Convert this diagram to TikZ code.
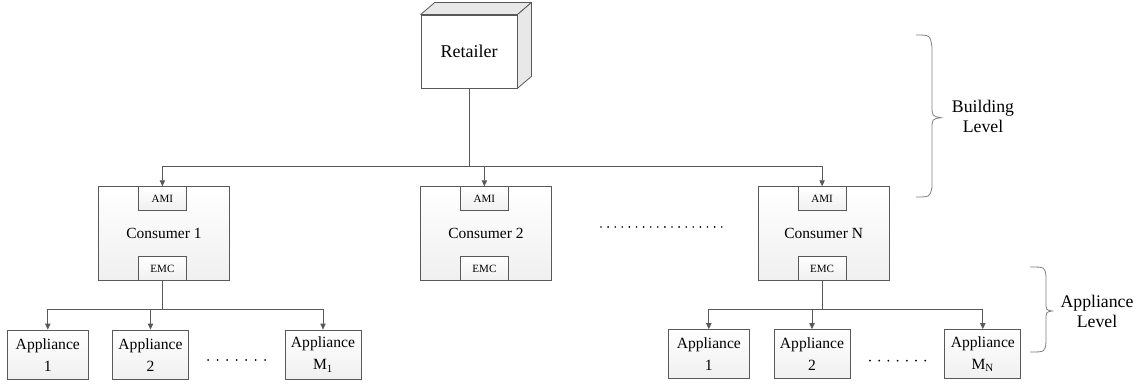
\documentclass[tikz,border=0pt]{standalone}
\usepackage{fontspec}
\setmainfont{Liberation Serif}
\usetikzlibrary{arrows.meta}
\definecolor{linegray}{RGB}{89,89,89}
\definecolor{facegray}{RGB}{232,232,232}
\tikzset{
  box/.style={draw=linegray, line width=0.6pt, top color=white, bottom color=gray!12, inner sep=1pt},
  consumer/.style={box, minimum width=98pt, minimum height=70.5pt, font=\fontsize{11.6}{14}\selectfont},
  meter/.style={box, minimum width=36pt, minimum height=18pt, font=\fontsize{8.3}{10}\selectfont},
  appliance/.style={box, minimum width=57pt, minimum height=37pt, align=center, font=\fontsize{11.7}{16.5}\selectfont},
  wire/.style={draw=linegray, line width=0.6pt},
  link/.style={wire, -{Triangle[length=4.5pt,width=4pt]}},
  brace/.style={draw=gray, line width=0.6pt},
  level/.style={align=center, font=\fontsize{13.3}{15}\selectfont},
}
\begin{document}
\begin{tikzpicture}[x=0.75pt, y=-0.75pt]
    \useasboundingbox (0,0) rectangle (1144,384);
    % retailer cube
    \node[draw=linegray, line width=0.6pt, fill=white, minimum width=72pt, minimum height=54.75pt,
          font=\fontsize{13.5}{16}\selectfont] (ret) at (469,51.5) {Retailer};
    \filldraw[wire, fill=facegray, line join=round] (ret.north west) -- ++(14,-12) -- ([shift={(14,-12)}]ret.north east) -- (ret.north east) -- cycle;
    \filldraw[wire, fill=facegray, line join=round] (ret.north east) -- ++(14,-12) -- ([shift={(14,-12)}]ret.south east) -- (ret.south east) -- cycle;
    % consumers
    \node[consumer] (c1) at (164,233.7) {Consumer 1};
    \node[consumer] (c2) at (486,233.7) {Consumer 2};
    \node[consumer] (cN) at (823.7,233.7) {Consumer N};
    \foreach \c in {c1,c2,cN} {
        \node[meter, anchor=north] (ami\c) at ([xshift=-1.2pt]\c.north) {AMI};
        \node[meter, anchor=south] (emc\c) at ([xshift=-1.2pt]\c.south) {EMC};
    }
    \path (ret.south) ++(0,78) coordinate (bus);
    \draw[wire] (ret.south) -- (bus);
    \foreach \c in {c1,c2,cN}
        \draw[link] (bus) -| (ami\c.north);
    \foreach \i in {0,...,17}
        \fill[black] (601+7.1*\i,227) circle (0.7pt);
    % appliances of consumer 1
    \node[appliance, minimum width=60.75pt] (a11) at (47.8,354.7) {Appliance\\1};
    \node[appliance] (a12) at (150.5,354.7) {Appliance\\2};
    \node[appliance] (a1m) at (323,354.7) {Appliance\\M\textsubscript{1}};
    \path (emcc1.south) ++(0,28.3) coordinate (j1);
    \draw[wire] (emcc1.south) -- (j1);
    \foreach \a in {a11,a12,a1m}
        \draw[link] (j1) -| (\a.north);
    \foreach \i in {0,...,6}
        \fill[black] (208+9.5*\i,360) circle (0.75pt);
    % appliances of consumer N
    \node[appliance, minimum width=60.75pt] (aN1) at (708.8,354.2) {Appliance\\1};
    \node[appliance] (aN2) at (812,354.2) {Appliance\\2};
    \node[appliance] (aNm) at (982.8,354.2) {Appliance\\M\textsubscript{N}};
    \path (emccN.south) ++(0,28.3) coordinate (jN);
    \draw[wire] (emccN.south) -- (jN);
    \foreach \a in {aN1,aN2,aNm}
        \draw[link] (jN) -| (\a.north);
    \foreach \i in {0,...,6}
        \fill[black] (870+9.2*\i,360.7) circle (0.75pt);
    % levels
    \draw[brace] (916,35) .. controls (930,35) .. (932,47) -- (932,106) .. controls (932,116) .. (941,117.7)
        .. controls (932,119) .. (932,129) -- (932,187) .. controls (930,197) .. (916,197);
    \node[level] (bl) at (983,116) {Building\\Level};
    \draw[brace] (1030,267) .. controls (1045,267) .. (1046,277) -- (1046,302) .. controls (1046,310) .. (1052,311)
        .. controls (1046,312) .. (1046,320) -- (1046,342) .. controls (1045,352) .. (1030,352);
    \node[level] (al) at (1097,311.7) {Appliance\\Level};
\end{tikzpicture}
\end{document}
